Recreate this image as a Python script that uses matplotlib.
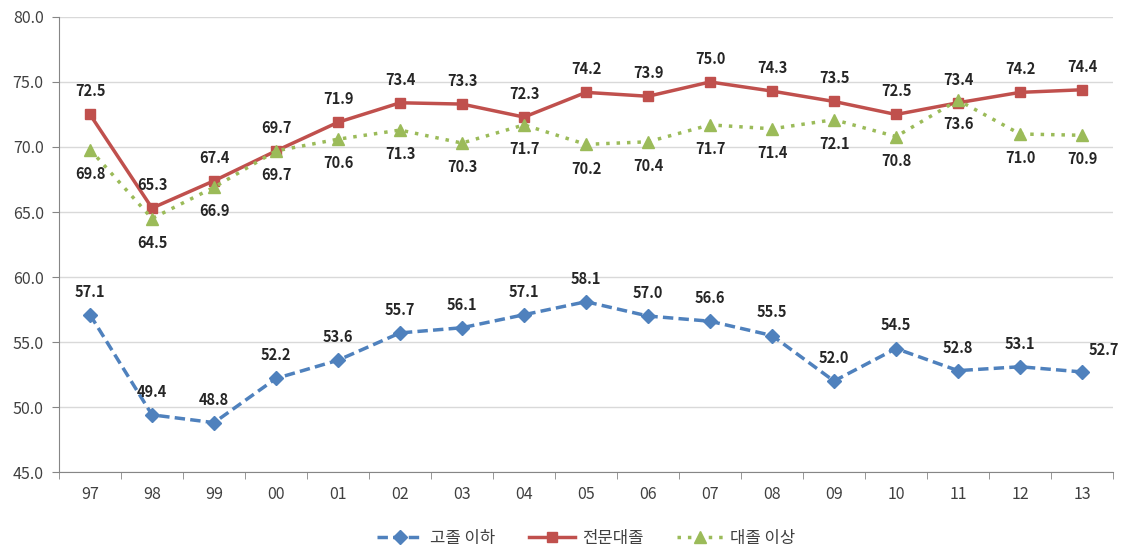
import numpy as np
import matplotlib.pyplot as plt

plt.rcParams['font.family'] = ['Noto Sans CJK KR', 'DejaVu Sans']

years = ['97', '98', '99', '00', '01', '02', '03', '04', '05', '06',
         '07', '08', '09', '10', '11', '12', '13']
high_school = [57.1, 49.4, 48.8, 52.2, 53.6, 55.7, 56.1, 57.1, 58.1, 57.0,
               56.6, 55.5, 52.0, 54.5, 52.8, 53.1, 52.7]
college = [72.5, 65.3, 67.4, 69.7, 71.9, 73.4, 73.3, 72.3, 74.2, 73.9,
           75.0, 74.3, 73.5, 72.5, 73.4, 74.2, 74.4]
university = [69.8, 64.5, 66.9, 69.7, 70.6, 71.3, 70.3, 71.7, 70.2, 70.4,
              71.7, 71.4, 72.1, 70.8, 73.6, 71.0, 70.9]
series_names = ['고졸 이하', '전문대졸', '대졸 이상']

x = np.arange(len(years))

fig = plt.figure(figsize=(11.22, 5.47), dpi=100)
ax = fig.add_axes([0.0526, 0.137, 0.9394, 0.832])

ax.plot(x, high_school, color='#4F81BD', lw=2.5, ls=(0, (3, 1.5)),
        marker='D', ms=7, label=series_names[0])
ax.plot(x, college, color='#C0504D', lw=2.5, marker='s', ms=7,
        label=series_names[1])
ax.plot(x, university, color='#9BBB59', lw=2.5, ls=(0, (1, 2)),
        marker='^', ms=9, label=series_names[2])

lab = dict(fontsize=10.5, fontweight='bold', color='#262626', ha='center')
for i in x:
    if i == len(x) - 1:
        ax.annotate(f'{high_school[i]:.1f}', (i, high_school[i]),
                    xytext=(16, 12), textcoords='offset points', **lab)
    else:
        ax.annotate(f'{high_school[i]:.1f}', (i, high_school[i]),
                    xytext=(0, 13), textcoords='offset points', **lab)
    ax.annotate(f'{college[i]:.1f}', (i, college[i]),
                xytext=(0, 13), textcoords='offset points', **lab)
    ax.annotate(f'{university[i]:.1f}', (i, university[i]),
                xytext=(0, -21), textcoords='offset points', **lab)

ax.set_ylim(45, 80)
ax.set_yticks(np.arange(45, 80.1, 5))
ax.set_yticklabels([f'{v:.1f}' for v in np.arange(45, 80.1, 5)])
ax.set_xlim(-0.5, len(x) - 0.5)
ax.set_xticks(x)
ax.set_xticklabels(years)
ax.set_xticks(np.arange(-0.5, len(x), 1), minor=True)
ax.tick_params(axis='x', which='major', length=0, pad=10)
ax.tick_params(axis='x', which='minor', length=5, color='#868686')
ax.tick_params(axis='y', length=5, color='#868686', pad=6)
ax.tick_params(labelsize=11.5, labelcolor='#404040')

ax.grid(axis='y', color='#D9D9D9', lw=1)
ax.set_axisbelow(True)
for s in ['top', 'right']:
    ax.spines[s].set_visible(False)
for s in ['left', 'bottom']:
    ax.spines[s].set_color('#868686')

ax.legend(loc='upper center', bbox_to_anchor=(0.5, -0.095), ncol=3,
          frameon=False, fontsize=12, handlelength=2.8, handletextpad=0.4,
          columnspacing=2.0, labelcolor='#404040')

plt.savefig('out.png', dpi=100)
